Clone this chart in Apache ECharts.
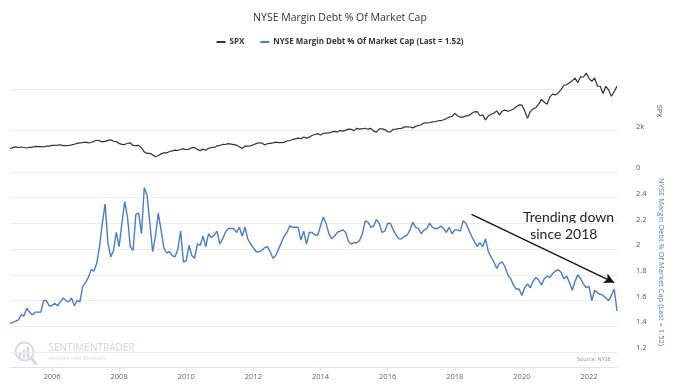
<!DOCTYPE html>
<html>
<head>
<meta charset="utf-8">
<script src="https://cdn.jsdelivr.net/npm/echarts@6/dist/echarts.min.js"></script>
<style>
html,body{margin:0;padding:0;background:#fff;}
#chart{width:680px;height:388px;}
</style>
</head>
<body>
<div id="chart"></div>
<script>
// Monthly data, Oct 2004 .. Nov 2022
const startYear = 2004, startMonth = 10, monthCount = 218;
const spx = [
  1130,1174,1212,
  1181,1204,1181,1157,1192,1191,1234,1220,1229,1207,1249,1248,
  1280,1281,1295,1311,1270,1270,1277,1304,1336,1378,1401,1418,
  1438,1407,1421,1482,1531,1503,1455,1474,1527,1549,1481,1468,
  1379,1331,1323,1386,1400,1280,1267,1283,1165,969,896,903,
  826,735,798,873,919,919,987,1021,1057,1036,1096,1115,
  1074,1104,1169,1187,1089,1031,1102,1049,1141,1183,1181,1258,
  1286,1327,1326,1364,1345,1321,1292,1219,1131,1253,1247,1258,
  1312,1366,1408,1398,1310,1362,1379,1407,1441,1412,1416,1426,
  1498,1515,1569,1598,1631,1606,1686,1633,1682,1757,1806,1848,
  1783,1859,1872,1884,1924,1960,1931,2003,1972,2018,2068,2059,
  1995,2105,2068,2086,2107,2063,2104,1972,1920,2079,2080,2044,
  1940,1932,2060,2065,2097,2099,2174,2171,2168,2126,2199,2239,
  2279,2364,2363,2384,2412,2423,2470,2472,2519,2575,2648,2674,
  2824,2714,2641,2648,2705,2718,2816,2902,2914,2712,2760,2507,
  2704,2784,2834,2946,2752,2942,2980,2926,2977,3038,3141,3231,
  3226,2954,2585,2912,3044,3100,3271,3500,3363,3270,3622,3756,
  3714,3811,3973,4181,4204,4298,4395,4523,4308,4605,4567,4766,
  4516,4374,4530,4132,4132,3785,4130,3955,3650,3872,4150
];
const marginDebt = [
  1.42,1.43,1.44,1.45,1.49,1.48,1.54,1.51,1.49,1.51,
  1.51,1.51,1.60,1.60,1.56,1.56,1.58,1.56,1.59,1.62,
  1.60,1.59,1.62,1.56,1.60,1.59,1.71,1.74,1.78,1.84,
  1.83,1.89,2.02,2.20,2.35,2.05,1.94,1.99,2.13,2.02,
  2.20,2.37,2.25,2.02,1.99,2.27,2.28,2.12,2.48,2.42,
  2.20,1.98,2.10,2.28,2.15,2.01,1.97,1.98,1.95,1.94,
  2.00,2.14,1.90,1.91,2.03,1.95,1.93,2.04,2.03,2.10,
  2.02,2.12,2.09,2.11,2.14,2.04,2.08,2.13,2.16,2.16,
  2.16,2.13,2.17,2.10,2.17,2.08,2.04,2.01,1.98,1.98,
  1.99,2.01,2.02,1.98,1.93,1.95,2.00,2.05,2.10,2.13,
  2.18,2.17,2.17,2.17,2.07,2.14,2.04,2.13,2.13,2.11,
  2.11,2.18,2.25,2.20,2.12,2.08,2.10,2.13,2.14,2.15,
  2.13,2.06,2.04,2.05,2.05,2.07,2.12,2.22,2.21,2.17,
  2.18,2.23,2.20,2.13,2.14,2.20,2.20,2.15,2.11,2.08,
  2.08,2.10,2.11,2.15,2.21,2.17,2.16,2.12,2.15,2.16,
  2.20,2.17,2.16,2.16,2.18,2.16,2.13,2.17,2.12,2.15,
  2.15,2.14,2.22,2.20,2.15,2.10,2.06,2.02,2.05,2.02,
  2.08,1.98,1.94,1.90,1.85,1.89,1.90,1.86,1.80,1.77,
  1.72,1.69,1.69,1.64,1.70,1.73,1.70,1.75,1.78,1.76,
  1.72,1.77,1.79,1.78,1.81,1.83,1.84,1.82,1.77,1.79,
  1.74,1.68,1.75,1.80,1.77,1.73,1.70,1.71,1.60,1.68,
  1.66,1.65,1.64,1.62,1.60,1.64,1.69,1.52
];
const xTickYears = ['2006','2008','2010','2012','2014','2016','2018','2020','2022'];
const spxTickLabels = {0:'0', 2000:'2k'};
const debtTicks = [1.2,1.4,1.6,1.8,2,2.2,2.4];
const arrowFrom = ['2018-07', 2.27];
const arrowTo = ['2022-10', 1.74];

const months = [];
for (let k = 0; k < monthCount; k++) {
  const m0 = startMonth - 1 + k;
  const y = startYear + Math.floor(m0 / 12);
  const m = (m0 % 12) + 1;
  months.push(y + '-' + (m < 10 ? '0' + m : m));
}
const isTick = (idx, val) => {
  const v = months[idx];
  return v.slice(5) === '01' && xTickYears.indexOf(v.slice(0, 4)) >= 0;
};

const FONT = 'Open Sans';
const BLUE = '#4a7cc7';
const chart = echarts.init(document.getElementById('chart'), null, {renderer: 'canvas'});
chart.setOption({
  backgroundColor: '#fff',
  animation: false,
  title: {
    text: 'NYSE Margin Debt % Of Market Cap',
    left: 'center', top: 8,
    textStyle: {fontFamily: FONT, fontSize: 10.5, fontWeight: 'normal', color: '#333'}
  },
  legend: {
    top: 33, left: 'center',
    itemWidth: 9, itemHeight: 2, itemGap: 16,
    icon: 'rect',
    textStyle: {fontFamily: FONT, fontSize: 8, fontWeight: 'bold', color: '#333', padding: [0,0,0,-1]},
    data: ['SPX', 'NYSE Margin Debt % Of Market Cap (Last = 1.52)']
  },
  grid: [
    {left: 10, right: 63, top: 50, height: 122},
    {left: 10, right: 63, top: 172, height: 180}
  ],
  xAxis: [
    {gridIndex: 0, type: 'category', data: months, boundaryGap: false, show: false},
    {gridIndex: 1, type: 'category', data: months, boundaryGap: false, offset: 15,
     axisLine: {lineStyle: {color: '#dde3ec', width: 1}},
     axisTick: {show: true, interval: isTick, length: 4, lineStyle: {color: '#dde3ec'}},
     axisLabel: {interval: isTick, formatter: v => v.slice(0, 4), fontFamily: FONT, fontSize: 7.5, color: '#666', margin: 6},
     splitLine: {show: false}}
  ],
  yAxis: [
    {gridIndex: 0, type: 'value', position: 'right', min: 0, max: 5880, interval: 2000,
     name: 'SPX', nameLocation: 'middle', nameRotate: -90, nameGap: 34,
     nameTextStyle: {fontFamily: FONT, fontSize: 7.5, color: '#555'},
     axisLine: {show: false}, axisTick: {show: false},
     axisLabel: {formatter: v => (spxTickLabels[v] !== undefined ? spxTickLabels[v] : ''), fontFamily: FONT, fontSize: 7.5, color: '#555', margin: 19, verticalAlign: 'bottom', align: 'left'},
     splitLine: {lineStyle: {color: ['#ececec', '#ececec', '#ececec', 'rgba(0,0,0,0)'], width: 1}}},
    {gridIndex: 1, type: 'value', position: 'right', min: 1.2, max: 2.6, interval: 0.2,
     name: 'NYSE Margin Debt % Of Market Cap (Last = 1.52)', nameLocation: 'middle', nameRotate: -90, nameGap: 34,
     nameTextStyle: {fontFamily: FONT, fontSize: 7.5, color: BLUE},
     axisLine: {show: false}, axisTick: {show: false},
     axisLabel: {formatter: v => {
        const r = Math.round(v * 10) / 10;
        return debtTicks.indexOf(r) >= 0 ? String(r) : '';
      }, fontFamily: FONT, fontSize: 7.5, color: '#555', margin: 19, verticalAlign: 'bottom', align: 'left'},
     splitLine: {lineStyle: {color: '#ececec', width: 1}}}
  ],
  series: [
    {name: 'SPX', type: 'line', xAxisIndex: 0, yAxisIndex: 0, data: spx,
     symbol: 'none', lineStyle: {color: '#333', width: 1.2}, itemStyle: {color: '#333'}},
    {name: 'NYSE Margin Debt % Of Market Cap (Last = 1.52)', type: 'line', xAxisIndex: 1, yAxisIndex: 1, data: marginDebt,
     symbol: 'none', lineStyle: {color: BLUE, width: 1.4}, itemStyle: {color: BLUE},
     markLine: {silent: true, symbol: ['none', 'arrow'], symbolSize: [8, 10],
       label: {show: false},
       lineStyle: {color: '#111', width: 1.3, type: 'solid'},
       data: [[{coord: arrowFrom}, {coord: arrowTo}]]}}
  ],
  graphic: [
    {type: 'text', left: 523, top: 209, style: {text: 'Trending down\n  since 2018', font: '14px Lato', fill: '#222', lineHeight: 17}},
    {type: 'text', left: 577, top: 356, style: {text: 'Source: NYSE', font: '5.5px "Open Sans"', fill: '#999'}},
    {type: 'group', left: 13, top: 340, children: [
      {type: 'circle', shape: {cx: 10, cy: 10, r: 9}, style: {fill: 'none', stroke: '#d5dbe3', lineWidth: 2}},
      {type: 'rect', shape: {x: 4, y: 11, width: 2.5, height: 6}, style: {fill: '#d5dbe3'}},
      {type: 'rect', shape: {x: 8, y: 8, width: 2.5, height: 9}, style: {fill: '#d5dbe3'}},
      {type: 'rect', shape: {x: 12, y: 5, width: 2.5, height: 12}, style: {fill: '#d5dbe3'}},
      {type: 'line', shape: {x1: 16, y1: 16, x2: 22, y2: 23}, style: {stroke: '#d5dbe3', lineWidth: 3}},
      {type: 'text', left: 34, top: 2, style: {text: 'SENTIMENTRADER', font: '10px "Open Sans"', fill: '#cfd5de'}},
      {type: 'text', left: 34, top: 14, style: {text: 'Analysis over Emotion', font: '5.5px "Open Sans"', fill: '#d5dae2', letterSpacing: 1}}
    ]}
  ]
});
</script>
</body>
</html>
